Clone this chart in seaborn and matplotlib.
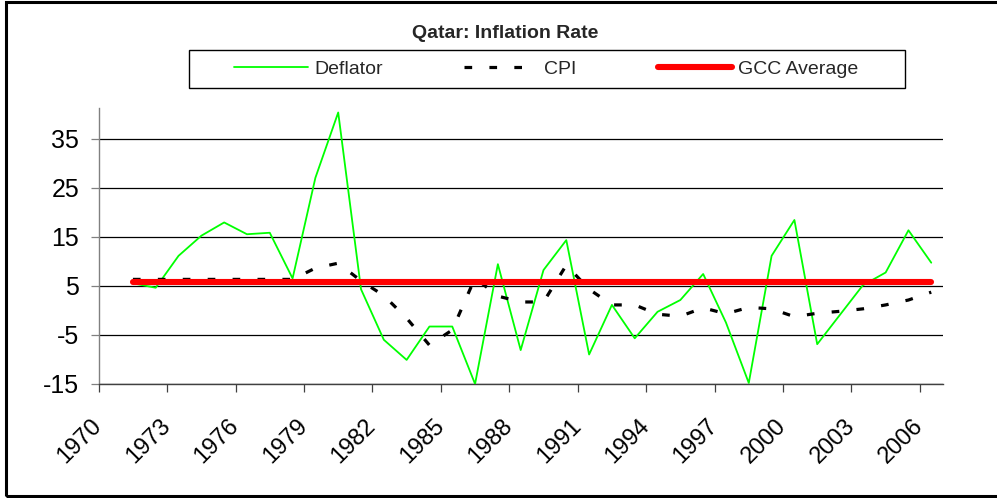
import matplotlib
matplotlib.use("Agg")
import matplotlib.pyplot as plt
import seaborn as sns
import pandas as pd
from matplotlib.patches import Rectangle
from matplotlib.lines import Line2D

# ---------------- data ----------------
years = list(range(1971, 2007))
deflator = [5.5, 4.6, 11.1, 15.2, 17.9, 15.5, 15.8, 6.5, 27.0, 40.3,
            4.3, -6.0, -10.1, -3.3, -3.3, -15.0, 9.4, -8.1, 8.2, 14.3,
            -9.0, 1.1, -5.7, -0.3, 2.1, 7.4, -2.5, -14.8, 11.1, 18.4,
            -6.9, -0.9, 5.1, 7.7, 16.3, 9.7]
cpi = [6.3, 6.3, 6.3, 6.3, 6.3, 6.3, 6.3, 6.3, 8.6, 9.6,
       6.0, 3.0, -1.6, -7.1, -4.0, 6.6, 2.9, 1.7, 1.7, 9.2,
       4.3, 1.1, 1.1, -0.8, -1.2, 0.5, -0.7, 0.6, 0.3, -1.3,
       -0.6, -0.2, 0.3, 1.1, 2.1, 3.7]
gcc_average = [5.8, 5.8, 5.8, 5.8, 5.8, 5.8, 5.8, 5.8, 5.8, 5.8,
               5.8, 5.8, 5.8, 5.8, 5.8, 5.8, 5.8, 5.8, 5.8, 5.8,
               5.8, 5.8, 5.8, 5.8, 5.8, 5.8, 5.8, 5.8, 5.8, 5.8,
               5.8, 5.8, 5.8, 5.8, 5.8, 5.8]
tick_years = [1970, 1973, 1976, 1979, 1982, 1985, 1988, 1991, 1994,
              1997, 2000, 2003, 2006]
y_ticks = [-15, -5, 5, 15, 25, 35]
series_names = ["Deflator", "CPI", "GCC Average"]
title = "Qatar: Inflation Rate"

# ---------------- style ----------------
sns.set_theme(style="white")
plt.rcParams["font.family"] = ["Liberation Sans", "DejaVu Sans"]

W, H = 997, 498
fig = plt.figure(figsize=(W / 100, H / 100), dpi=100)
ax = fig.add_axes([0.099, 0.229, 0.8465, 0.554])

df = pd.DataFrame({"Year": years, "Deflator": deflator,
                   "CPI": cpi, "GCC Average": gcc_average})

sns.lineplot(data=df, x="Year", y="Deflator", ax=ax, color="#00FF00",
             lw=1.3, zorder=3, legend=False)
sns.lineplot(data=df, x="Year", y="CPI", ax=ax, color="black",
             lw=2.3, linestyle=(0, (2.4, 5.4)), zorder=4, legend=False)
sns.lineplot(data=df, x="Year", y="GCC Average", ax=ax, color="#FF0000",
             lw=4.4, solid_capstyle="round", zorder=5, legend=False)

ax.set_xlim(1969.5, 2006.5)
ax.set_ylim(-15, 41.2)
ax.set_xlabel("")
ax.set_ylabel("")

ax.set_yticks(y_ticks)
ax.set_yticklabels([str(v) for v in y_ticks])
ax.yaxis.grid(True, color="black", lw=0.9, zorder=1)
ax.xaxis.grid(False)

ax.set_xticks([y - 0.5 for y in tick_years])
ax.set_xticklabels([str(y) for y in tick_years], rotation=45,
                   ha="right", va="center", rotation_mode="anchor")

for s in ["top", "right"]:
    ax.spines[s].set_visible(False)
ax.spines["left"].set_color("#808080")
ax.spines["left"].set_linewidth(1.0)
ax.spines["bottom"].set_color("#404040")
ax.spines["bottom"].set_linewidth(1.0)

ax.tick_params(axis="y", which="major", left=True, length=6, width=0.9,
               color="#808080", pad=8, labelsize=18, labelcolor="black")
ax.tick_params(axis="x", which="major", bottom=True, length=6, width=0.9,
               color="#404040", pad=22, labelsize=17, labelcolor="black")

# ---------------- title & legend ----------------
fig.text(0.507, 1 - 34 / H, title, ha="center", va="center",
         fontsize=14, fontweight="bold")

handles = [
    Line2D([], [], color="#00FF00", lw=1.3),
    Line2D([], [], color="black", lw=2.3, linestyle=(0, (2.4, 5.4))),
    Line2D([], [], color="#FF0000", lw=4.4, solid_capstyle="round"),
]
leg = fig.legend(handles, series_names, loc="center",
                 bbox_to_anchor=(0.548, 1 - 69 / H),
                 bbox_transform=fig.transFigure, ncol=3, frameon=False,
                 fontsize=14, handlelength=3.8, handletextpad=0.3,
                 columnspacing=4.2, borderpad=0.35)

# legend box (drawn separately to match the wide frame)
fig.patches.append(Rectangle((189 / W, 1 - 88 / H), (905 - 189) / W,
                             38 / H, transform=fig.transFigure,
                             fill=False, lw=1.0, ec="black"))

# outer chart border
fig.patches.append(Rectangle((6 / W, 2 / H), 1.0, 494 / H,
                             transform=fig.transFigure, fill=False,
                             lw=2.2, ec="black"))

fig.savefig("out.png", dpi=100)
